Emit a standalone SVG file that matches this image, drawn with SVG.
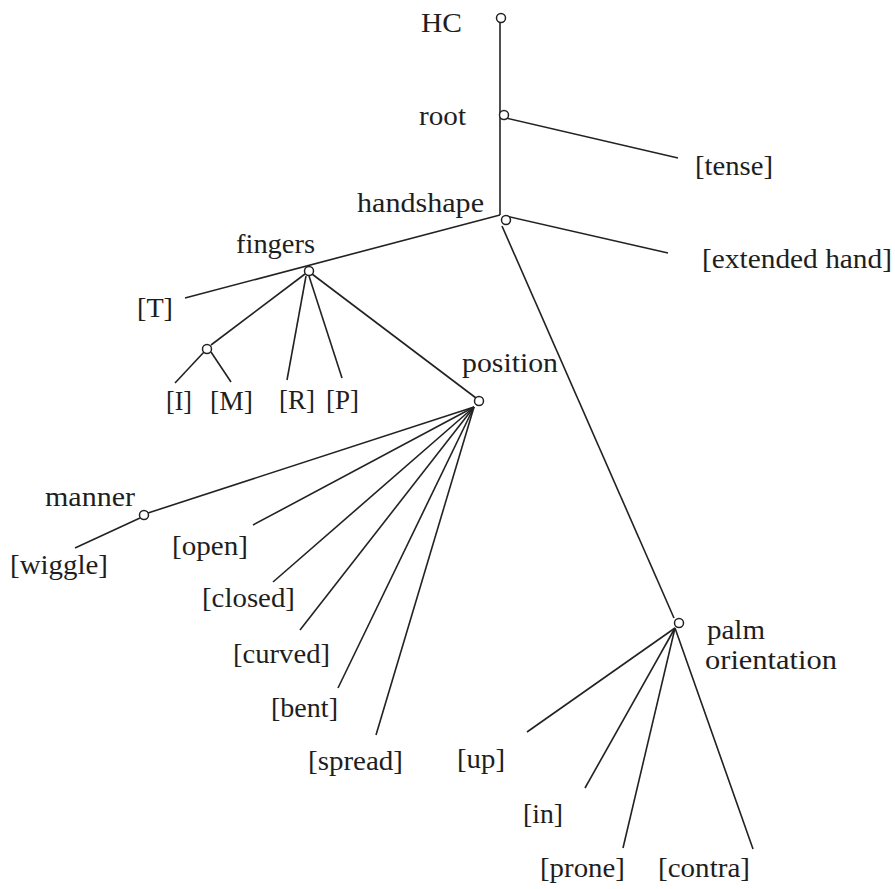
<svg xmlns="http://www.w3.org/2000/svg" width="895" height="889" viewBox="0 0 895 889">
<style>
.t text{font-size:27px;fill:#1e1e1e}
.e{stroke:#222;stroke-width:1.6;fill:none}
.n{stroke:#222;stroke-width:1.5;fill:#fff}
</style>
<rect width="895" height="889" fill="#fff"/>
<g id="connectors">
<line class="e" x1="500" y1="22" x2="500" y2="215"/>
<line class="e" x1="506" y1="118" x2="678" y2="158"/>
<line class="e" x1="506" y1="216" x2="668" y2="253"/>
<line class="e" x1="500" y1="215" x2="185" y2="298"/>
<line class="e" x1="502" y1="226" x2="674" y2="618"/>
<line class="e" x1="305" y1="274" x2="211" y2="345"/>
<line class="e" x1="204" y1="352" x2="175" y2="383"/>
<line class="e" x1="211" y1="352" x2="231" y2="382"/>
<line class="e" x1="306" y1="276" x2="287" y2="380"/>
<line class="e" x1="309" y1="276" x2="342" y2="378"/>
<line class="e" x1="312" y1="274" x2="476" y2="398"/>
<line class="e" x1="474" y1="407" x2="148" y2="513"/>
<line class="e" x1="140" y1="518" x2="75" y2="548"/>
<line class="e" x1="474" y1="407" x2="253" y2="525"/>
<line class="e" x1="474" y1="407" x2="273" y2="582"/>
<line class="e" x1="474" y1="407" x2="300" y2="630"/>
<line class="e" x1="474" y1="407" x2="338" y2="688"/>
<line class="e" x1="474" y1="407" x2="376" y2="735"/>
<line class="e" x1="675" y1="628" x2="527" y2="732"/>
<line class="e" x1="675" y1="628" x2="585" y2="788"/>
<line class="e" x1="675" y1="628" x2="623" y2="848"/>
<line class="e" x1="675" y1="628" x2="753" y2="849"/>
</g>
<g class="t" font-family="Liberation Serif, DejaVu Serif, serif">
<g id="HC"><circle class="n" cx="501" cy="18" r="4.5"/><text x="421" y="32" textLength="41" lengthAdjust="spacingAndGlyphs">HC</text></g>
<g id="root"><circle class="n" cx="504" cy="115" r="4.5"/><text x="419" y="125" textLength="47" lengthAdjust="spacingAndGlyphs">root</text></g>
<g id="tense"><text x="695" y="175" textLength="78" lengthAdjust="spacingAndGlyphs">[tense]</text></g>
<g id="handshape"><circle class="n" cx="506" cy="220" r="4.5"/><text x="357" y="212" textLength="127" lengthAdjust="spacingAndGlyphs">handshape</text></g>
<g id="extended"><text x="702" y="268" textLength="190" lengthAdjust="spacingAndGlyphs">[extended hand]</text></g>
<g id="fingers"><circle class="n" cx="309" cy="271" r="4.5"/><text x="236" y="253" textLength="79" lengthAdjust="spacingAndGlyphs">fingers</text></g>
<g id="T"><text x="137" y="317" textLength="36" lengthAdjust="spacingAndGlyphs">[T]</text></g>
<g id="IM"><circle class="n" cx="207" cy="349" r="4.5"/></g>
<g id="I"><text x="166" y="410" textLength="26" lengthAdjust="spacingAndGlyphs">[I]</text></g>
<g id="M"><text x="210" y="410" textLength="43" lengthAdjust="spacingAndGlyphs">[M]</text></g>
<g id="R"><text x="279" y="409" textLength="36" lengthAdjust="spacingAndGlyphs">[R]</text></g>
<g id="P"><text x="326" y="409" textLength="33" lengthAdjust="spacingAndGlyphs">[P]</text></g>
<g id="position"><circle class="n" cx="479" cy="401" r="4.5"/><text x="462" y="372" textLength="96" lengthAdjust="spacingAndGlyphs">position</text></g>
<g id="manner"><circle class="n" cx="144" cy="515" r="4.5"/><text x="45" y="506" textLength="90" lengthAdjust="spacingAndGlyphs">manner</text></g>
<g id="wiggle"><text x="10" y="574" textLength="98" lengthAdjust="spacingAndGlyphs">[wiggle]</text></g>
<g id="open"><text x="172" y="555" textLength="76" lengthAdjust="spacingAndGlyphs">[open]</text></g>
<g id="closed"><text x="202" y="607" textLength="93" lengthAdjust="spacingAndGlyphs">[closed]</text></g>
<g id="curved"><text x="233" y="663" textLength="97" lengthAdjust="spacingAndGlyphs">[curved]</text></g>
<g id="bent"><text x="271" y="717" textLength="67" lengthAdjust="spacingAndGlyphs">[bent]</text></g>
<g id="spread"><text x="308" y="770" textLength="95" lengthAdjust="spacingAndGlyphs">[spread]</text></g>
<g id="palm"><circle class="n" cx="679" cy="623" r="4.5"/><text x="707" y="639" textLength="58" lengthAdjust="spacingAndGlyphs">palm</text><text x="705" y="669" textLength="132" lengthAdjust="spacingAndGlyphs">orientation</text></g>
<g id="up"><text x="457" y="768" textLength="48" lengthAdjust="spacingAndGlyphs">[up]</text></g>
<g id="in"><text x="523" y="823" textLength="40" lengthAdjust="spacingAndGlyphs">[in]</text></g>
<g id="prone"><text x="540" y="877" textLength="85" lengthAdjust="spacingAndGlyphs">[prone]</text></g>
<g id="contra"><text x="658" y="877" textLength="92" lengthAdjust="spacingAndGlyphs">[contra]</text></g>
</g>
</svg>
